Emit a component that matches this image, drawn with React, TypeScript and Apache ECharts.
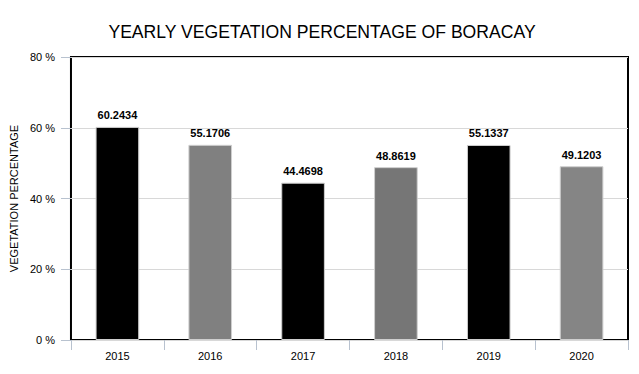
import React, { useEffect, useRef } from "react";
import * as echarts from "echarts";

const years = ["2015", "2016", "2017", "2018", "2019", "2020"];
const vegetation = [60.2434, 55.1706, 44.4698, 48.8619, 55.1337, 49.1203];
const barColors = ["#000000", "#808080", "#000000", "#767676", "#000000", "#858585"];
const titleText = "YEARLY VEGETATION PERCENTAGE OF BORACAY";
const yAxisName = "VEGETATION PERCENTAGE";

export default function App() {
  const ref = useRef<HTMLDivElement>(null);
  useEffect(() => {
    if (!ref.current) return;
    const chart = echarts.init(ref.current, null, { renderer: "svg" });
    const font = "Liberation Sans, Arial, sans-serif";
    chart.setOption({
      animation: false,
      backgroundColor: "#ffffff",
      title: {
        text: titleText,
        left: 317,
        textAlign: "center",
        top: 18,
        textStyle: { fontFamily: font, fontSize: 17.6, fontWeight: "normal", color: "#000" },
      },
      grid: {
        left: 66,
        right: 11,
        top: 57,
        bottom: 34,
        show: true,
        borderColor: "#000",
        borderWidth: 2,
        backgroundColor: "transparent",
      },
      xAxis: {
        type: "category",
        data: years,
        axisLine: { show: false },
        axisTick: { show: true, length: 10, lineStyle: { color: "#b8c2cf" } },
        axisLabel: { fontFamily: font, fontSize: 11, color: "#000", margin: 10 },
      },
      yAxis: {
        type: "value",
        min: 0,
        max: 80,
        interval: 20,
        name: yAxisName,
        nameLocation: "middle",
        nameGap: 50,
        nameTextStyle: { fontFamily: font, fontSize: 11, color: "#000" },
        axisLine: { show: false },
        axisTick: { show: true, length: 10, lineStyle: { color: "#b8c2cf" } },
        axisLabel: { formatter: "{value} %", fontFamily: font, fontSize: 11, color: "#000", margin: 16 },
        splitLine: { show: true, lineStyle: { color: "#d8d8d8", width: 1 } },
      },
      series: [
        {
          type: "bar",
          barWidth: "47%",
          data: vegetation.map((v, i) => ({
            value: v,
            itemStyle: { color: barColors[i], borderColor: "#cfcfcf", borderWidth: 1 },
          })),
          label: {
            show: true,
            position: "top",
            distance: 6,
            formatter: (p: any) => String(p.value),
            fontFamily: font,
            fontSize: 11,
            fontWeight: "bold",
            color: "#000",
          },
        },
      ],
    });
    return () => chart.dispose();
  }, []);
  return <div ref={ref} style={{ width: 639, height: 374, position: "absolute", left: 0, top: 0 }} />;
}
